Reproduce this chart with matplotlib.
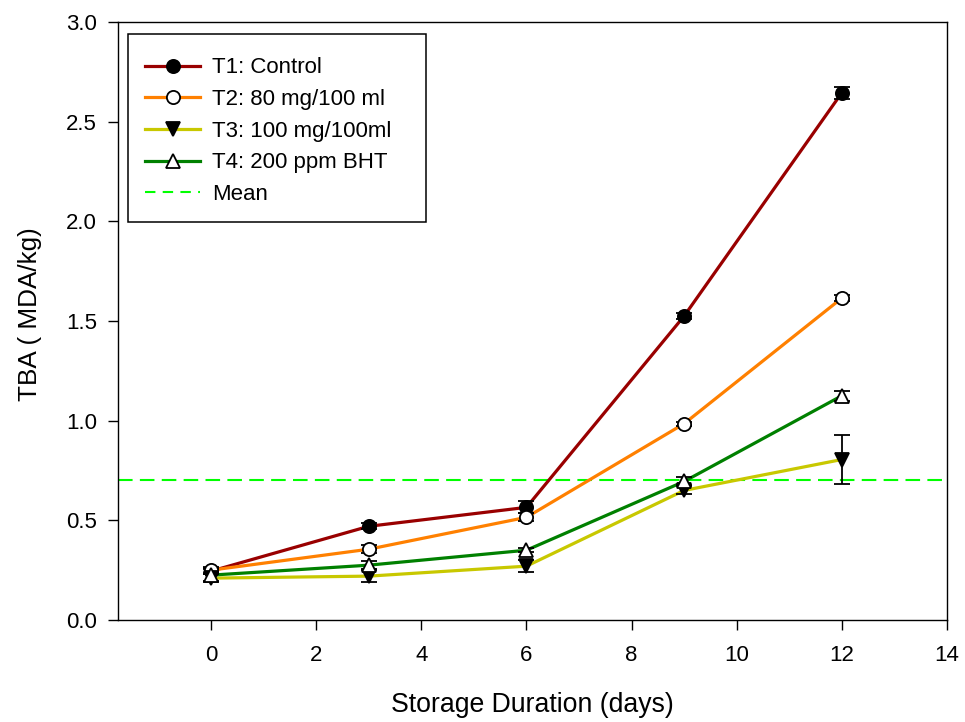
import matplotlib
matplotlib.use("Agg")
import matplotlib.pyplot as plt
from matplotlib.lines import Line2D
from matplotlib.patches import Rectangle

plt.rcParams['font.family'] = ['Liberation Sans', 'DejaVu Sans']

days = [0, 3, 6, 9, 12]
t1 = [0.245, 0.47, 0.565, 1.525, 2.645]
t1_err = [0.015, 0.015, 0.03, 0.015, 0.03]
t2 = [0.25, 0.355, 0.515, 0.985, 1.615]
t2_err = [0.015, 0.02, 0.02, 0.01, 0.015]
t3 = [0.21, 0.22, 0.27, 0.65, 0.805]
t3_err = [0.02, 0.03, 0.03, 0.02, 0.125]
t4 = [0.225, 0.275, 0.35, 0.695, 1.125]
t4_err = [0.03, 0.02, 0.01, 0.02, 0.025]
mean_val = 0.70

labels = ["T1: Control", "T2: 80 mg/100 ml", "T3: 100 mg/100ml", "T4: 200 ppm BHT", "Mean"]
colors = ["#990000", "#FF8000", "#C8C800", "#008000", "#00FF00"]
markers = ["o", "o", "v", "^"]
mfc = ["black", "white", "black", "white"]

fig = plt.figure(figsize=(9.65, 7.22), dpi=100)
ax = fig.add_axes([0.1223, 0.1413, 0.859, 0.8282])

series = [t1, t2, t3, t4]
errs = [t1_err, t2_err, t3_err, t4_err]
handles = []
for i, (y, e) in enumerate(zip(series, errs)):
    ax.errorbar(days, y, yerr=e, fmt='none', ecolor='black', elinewidth=1.3,
                capsize=6, capthick=1.3, zorder=3)
    ax.plot(days, y, color=colors[i], lw=2.3, zorder=2)
    ax.plot(days, y, ls='none', marker=markers[i], ms=9.5, mfc=mfc[i],
            mec='black', mew=1.3, zorder=4)
    handles.append(Line2D([], [], color=colors[i], lw=2.3, marker=markers[i],
                          ms=9.5, mfc=mfc[i], mec='black', mew=1.3))

ax.axhline(mean_val, color=colors[4], ls=(0, (7, 3.5)), lw=1.5, zorder=1)
handles.append(Line2D([], [], color=colors[4], ls=(0, (5, 3.5)), lw=1.5))

ax.set_xlim(-1.77, 14)
ax.set_ylim(0, 3.0)
ax.set_xticks([0, 2, 4, 6, 8, 10, 12, 14])
ax.set_yticks([0.0, 0.5, 1.0, 1.5, 2.0, 2.5, 3.0])
ax.set_yticklabels([f"{v:.1f}" for v in [0.0, 0.5, 1.0, 1.5, 2.0, 2.5, 3.0]])
ax.tick_params(axis='both', direction='out', length=7, width=1, labelsize=16,
               top=False, right=False)
ax.tick_params(axis='x', pad=11)
ax.tick_params(axis='y', pad=8)
for s in ax.spines.values():
    s.set_linewidth(1)

ax.set_xlabel("Storage Duration (days)", fontsize=19.2)
ax.set_ylabel("TBA ( MDA/kg)", fontsize=18.8)
ax.xaxis.set_label_coords(0.5, -0.121)
ax.yaxis.set_label_coords(-0.0917, 0.512)

# legend frame drawn separately so its padding matches the reference
ax.add_patch(Rectangle((0.01206, 0.66555), 0.3595, 0.31438, transform=ax.transAxes,
                       facecolor='white', edgecolor='black', lw=1.1, zorder=5))
leg = ax.legend(handles, labels, loc='upper left', fontsize=16,
                frameon=False, bbox_to_anchor=(0.0326, 0.9407), borderaxespad=0,
                handlelength=2.48, borderpad=0, labelspacing=0.48,
                handletextpad=0.54)
leg.set_zorder(6)

fig.savefig("out.png", dpi=100)
